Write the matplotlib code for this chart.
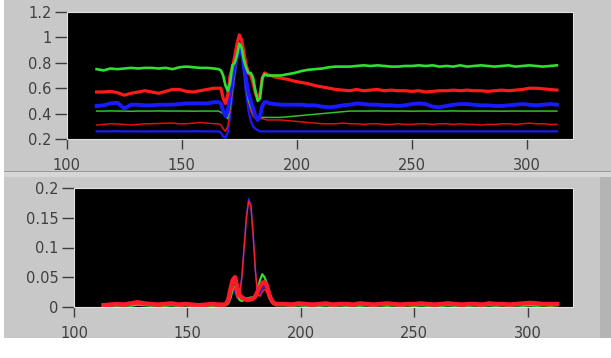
import matplotlib
matplotlib.use("Agg")
import matplotlib.pyplot as plt
from matplotlib.patches import Rectangle

# ---------------- data ----------------
x = [113, 116, 119, 122, 125, 128, 131, 134, 137, 140, 143, 146, 149, 152, 155, 158, 161, 164,
     166, 167, 168, 169, 170, 171, 172, 173, 174, 175, 176, 177, 178, 179, 180, 181, 182, 183,
     184, 185, 186, 187, 188, 189, 190,
     193, 196, 199, 202, 205, 208, 211, 214, 217, 220, 223, 226, 229, 232, 235, 238, 241, 244,
     247, 250, 253, 256, 259, 262, 265, 268, 271, 274, 277, 280, 283, 286, 289, 292, 295, 298,
     301, 304, 307, 310, 313]

# upper panel series
green_hi = [0.75, 0.74, 0.755, 0.75, 0.755, 0.76, 0.755, 0.76, 0.76, 0.755, 0.76, 0.75, 0.765, 0.77,
            0.765, 0.76, 0.76, 0.755,
            0.75, 0.74, 0.70, 0.62, 0.58, 0.64, 0.78, 0.80, 0.86, 0.95, 0.92, 0.82, 0.76, 0.72,
            0.72, 0.68, 0.58, 0.50, 0.52, 0.68, 0.71, 0.70, 0.70, 0.70, 0.70,
            0.70, 0.71, 0.72, 0.735, 0.745, 0.75, 0.755, 0.765, 0.77, 0.77, 0.77, 0.775, 0.78,
            0.775, 0.78, 0.775, 0.77, 0.77, 0.775, 0.775, 0.78, 0.775, 0.78, 0.77, 0.775, 0.77,
            0.78, 0.77, 0.775, 0.78, 0.775, 0.77, 0.775, 0.78, 0.77, 0.775, 0.78, 0.775, 0.77,
            0.775, 0.78]
red_hi = [0.57, 0.57, 0.575, 0.565, 0.545, 0.56, 0.57, 0.58, 0.57, 0.56, 0.575, 0.59, 0.59, 0.575,
          0.57, 0.58, 0.59, 0.60,
          0.60, 0.60, 0.52, 0.48, 0.55, 0.70, 0.76, 0.85, 0.95, 1.02, 0.98, 0.88, 0.78, 0.72,
          0.70, 0.64, 0.56, 0.52, 0.56, 0.68, 0.72, 0.71, 0.70, 0.70, 0.69,
          0.68, 0.67, 0.655, 0.645, 0.635, 0.62, 0.61, 0.60, 0.59, 0.585, 0.58, 0.59, 0.58,
          0.585, 0.59, 0.58, 0.585, 0.58, 0.58, 0.575, 0.58, 0.57, 0.575, 0.58, 0.58, 0.585,
          0.58, 0.585, 0.58, 0.58, 0.575, 0.58, 0.585, 0.58, 0.585, 0.59, 0.60, 0.60, 0.595,
          0.59, 0.585]
blue_hi = [0.46, 0.465, 0.48, 0.485, 0.44, 0.47, 0.47, 0.465, 0.465, 0.47, 0.47, 0.47, 0.475, 0.48,
           0.48, 0.48, 0.48, 0.49,
           0.49, 0.48, 0.42, 0.38, 0.42, 0.55, 0.68, 0.78, 0.88, 0.95, 0.92, 0.80, 0.66, 0.56,
           0.50, 0.44, 0.38, 0.35, 0.38, 0.46, 0.49, 0.49, 0.48, 0.48, 0.475,
           0.47, 0.47, 0.47, 0.47, 0.465, 0.465, 0.455, 0.45, 0.455, 0.465, 0.47, 0.48, 0.475,
           0.47, 0.47, 0.465, 0.465, 0.46, 0.465, 0.475, 0.48, 0.475, 0.455, 0.45, 0.46, 0.47,
           0.475, 0.475, 0.47, 0.465, 0.465, 0.46, 0.46, 0.465, 0.47, 0.475, 0.47, 0.465, 0.47,
           0.475, 0.47]
green_lo = [0.42, 0.42, 0.421, 0.42, 0.42, 0.418, 0.42, 0.42, 0.42, 0.421, 0.42, 0.42, 0.42, 0.42,
            0.419, 0.42, 0.42, 0.42,
            0.42, 0.41, 0.40, 0.38, 0.36, 0.45, 0.60, 0.72, 0.85, 0.95, 0.90, 0.75, 0.60, 0.50,
            0.45, 0.40, 0.38, 0.37, 0.37, 0.37, 0.37, 0.37, 0.37, 0.37, 0.37,
            0.37, 0.375, 0.38, 0.385, 0.39, 0.395, 0.40, 0.405, 0.41, 0.415, 0.42, 0.42, 0.42,
            0.42, 0.421, 0.42, 0.42, 0.42, 0.42, 0.419, 0.42, 0.42, 0.42, 0.42, 0.42, 0.421,
            0.42, 0.42, 0.42, 0.42, 0.42, 0.42, 0.419, 0.42, 0.42, 0.42, 0.42, 0.42, 0.42,
            0.42, 0.42]
red_lo = [0.31, 0.315, 0.32, 0.318, 0.315, 0.31, 0.315, 0.32, 0.32, 0.322, 0.325, 0.325, 0.32,
          0.32, 0.325, 0.33, 0.325, 0.32,
          0.32, 0.31, 0.28, 0.26, 0.30, 0.42, 0.58, 0.72, 0.85, 0.96, 0.92, 0.78, 0.62, 0.50,
          0.42, 0.38, 0.36, 0.36, 0.36, 0.36, 0.355, 0.35, 0.35, 0.35, 0.35,
          0.35, 0.345, 0.34, 0.335, 0.33, 0.325, 0.32, 0.32, 0.32, 0.325, 0.32, 0.32, 0.315,
          0.32, 0.32, 0.315, 0.315, 0.32, 0.315, 0.315, 0.32, 0.32, 0.315, 0.32, 0.32, 0.315,
          0.32, 0.315, 0.315, 0.31, 0.315, 0.315, 0.32, 0.32, 0.315, 0.32, 0.325, 0.32, 0.32,
          0.315, 0.315]
blue_lo = [0.26, 0.26, 0.26, 0.261, 0.26, 0.26, 0.26, 0.259, 0.26, 0.26, 0.26, 0.26, 0.26, 0.26,
           0.261, 0.26, 0.26, 0.26,
           0.26, 0.25, 0.22, 0.21, 0.25, 0.38, 0.55, 0.70, 0.82, 0.90, 0.86, 0.72, 0.55, 0.42,
           0.34, 0.30, 0.28, 0.27, 0.26, 0.26, 0.26, 0.26, 0.26, 0.26, 0.26,
           0.26, 0.26, 0.26, 0.26, 0.26, 0.26, 0.26, 0.26, 0.26, 0.26, 0.26, 0.26, 0.26,
           0.26, 0.26, 0.26, 0.26, 0.26, 0.26, 0.26, 0.26, 0.26, 0.26, 0.26, 0.26, 0.26,
           0.26, 0.26, 0.26, 0.26, 0.26, 0.26, 0.26, 0.26, 0.26, 0.26, 0.26, 0.26, 0.26,
           0.26, 0.26]

# lower panel series (18 + 25 + 41 values each)
red_dev = [0.003, 0.004, 0.005, 0.004, 0.006, 0.008, 0.006, 0.005, 0.004,
           0.005, 0.006, 0.004, 0.005, 0.004, 0.003, 0.004, 0.005, 0.004,
           0.004, 0.005, 0.012, 0.030, 0.045,
           0.050, 0.032, 0.020, 0.016, 0.014,
           0.012, 0.012, 0.013, 0.014, 0.018,
           0.026, 0.034, 0.040, 0.042, 0.036,
           0.022, 0.012, 0.007, 0.005, 0.005,
           0.005, 0.004, 0.006, 0.005, 0.004, 0.005, 0.006, 0.004, 0.005, 0.005,
           0.004, 0.006, 0.005, 0.004, 0.005, 0.006, 0.005, 0.004, 0.005, 0.005,
           0.006, 0.005, 0.004, 0.005, 0.006, 0.005, 0.004, 0.005, 0.005, 0.004,
           0.006, 0.005, 0.005, 0.004, 0.005, 0.006, 0.007, 0.006, 0.005, 0.005,
           0.005]
red_peak = [0.002, 0.003, 0.004, 0.003, 0.004, 0.006, 0.004, 0.004, 0.003,
            0.004, 0.004, 0.003, 0.004, 0.003, 0.003, 0.003, 0.004, 0.003,
            0.003, 0.004, 0.008, 0.020, 0.035,
            0.030, 0.015, 0.020, 0.050, 0.100,
            0.150, 0.178, 0.170, 0.120, 0.060,
            0.020, 0.018, 0.025, 0.030, 0.025,
            0.015, 0.008, 0.005, 0.004, 0.004,
            0.004, 0.003, 0.004, 0.004, 0.003, 0.004, 0.004, 0.003, 0.004, 0.004,
            0.003, 0.004, 0.004, 0.003, 0.004, 0.004, 0.004, 0.003, 0.004, 0.004,
            0.004, 0.004, 0.003, 0.004, 0.004, 0.004, 0.003, 0.004, 0.004, 0.003,
            0.004, 0.004, 0.004, 0.003, 0.004, 0.004, 0.005, 0.004, 0.004, 0.004,
            0.004]
green_dev = [0.002, 0.003, 0.002, 0.003, 0.002, 0.004, 0.003, 0.002, 0.003,
             0.002, 0.003, 0.002, 0.003, 0.002, 0.002, 0.003, 0.002, 0.003,
             0.003, 0.003, 0.006, 0.015, 0.030,
             0.035, 0.020, 0.012, 0.010, 0.012,
             0.014, 0.015, 0.016, 0.016, 0.020,
             0.030, 0.045, 0.055, 0.050, 0.040,
             0.025, 0.010, 0.005, 0.003, 0.003,
             0.003, 0.002, 0.003, 0.002, 0.003, 0.002, 0.003, 0.002, 0.003, 0.002,
             0.003, 0.002, 0.003, 0.002, 0.003, 0.002, 0.003, 0.002, 0.003, 0.002,
             0.003, 0.002, 0.003, 0.002, 0.003, 0.002, 0.003, 0.002, 0.003, 0.002,
             0.003, 0.002, 0.003, 0.002, 0.003, 0.002, 0.003, 0.002, 0.003, 0.002,
             0.003]
blue_dev = [0.003, 0.003, 0.004, 0.003, 0.004, 0.005, 0.004, 0.004, 0.003,
            0.005, 0.006, 0.004, 0.004, 0.003, 0.003, 0.004, 0.004, 0.003,
            0.003, 0.004, 0.008, 0.020, 0.030,
            0.025, 0.015, 0.020, 0.050, 0.100,
            0.150, 0.182, 0.170, 0.120, 0.060,
            0.020, 0.020, 0.030, 0.035, 0.030,
            0.015, 0.008, 0.005, 0.004, 0.004,
            0.004, 0.003, 0.004, 0.004, 0.003, 0.004, 0.004, 0.003, 0.004, 0.004,
            0.003, 0.004, 0.004, 0.003, 0.004, 0.004, 0.005, 0.003, 0.004, 0.004,
            0.005, 0.004, 0.003, 0.004, 0.004, 0.004, 0.003, 0.004, 0.004, 0.003,
            0.004, 0.004, 0.004, 0.003, 0.004, 0.004, 0.005, 0.004, 0.004, 0.004,
            0.004]

x_ticks = [100, 150, 200, 250, 300]
y_ticks_top = [0.2, 0.4, 0.6, 0.8, 1.0, 1.2]
y_labels_top = ["0.2", "0.4", "0.6", "0.8", "1", "1.2"]
y_ticks_bot = [0, 0.05, 0.1, 0.15, 0.2]
y_labels_bot = ["0", "0.05", "0.1", "0.15", "0.2"]

# ---------------- figure ----------------
W, H = 611, 358
fig = plt.figure(figsize=(W / 100, H / 100), dpi=100, facecolor="white")

PANEL = "#c8c8c8"
def px_rect(x0, y0, x1, y1, color):
    fig.patches.append(Rectangle((x0 / W, 1 - y1 / H), (x1 - x0) / W, (y1 - y0) / H,
                                 transform=fig.transFigure, facecolor=color,
                                 edgecolor="none", zorder=-10))

px_rect(4, 0, 611, 171, PANEL)
px_rect(4, 171, 611, 172, "#9a9a9a")
px_rect(4, 172, 611, 177, "#d6d6d6")
px_rect(4, 177, 611, 338, PANEL)
px_rect(600, 177, 611, 338, "#b4b4b4")

TXT = "#404040"

def style(ax, yt, yl):
    ax.set_facecolor("black")
    ax.set_xlim(100, 320)
    ax.set_xticks(x_ticks)
    ax.set_xticklabels([str(t) for t in x_ticks])
    ax.set_yticks(yt)
    ax.set_yticklabels(yl)
    ax.tick_params(axis="x", direction="out", length=7, width=1, color="#3c3c3c",
                   labelcolor=TXT, labelsize=10.5, pad=7)
    ax.tick_params(axis="y", direction="out", length=9, width=1, color="#3c3c3c",
                   labelcolor=TXT, labelsize=10.5, pad=2)
    for s in ax.spines.values():
        s.set_color("#e0e0e0")
        s.set_linewidth(0.8)

ax1 = fig.add_axes([66.7 / W, 1 - 139 / H, (573 - 66.7) / W, (139 - 12) / H])
style(ax1, y_ticks_top, y_labels_top)
ax1.set_ylim(0.2, 1.2)
ax1.plot(x, blue_lo, color="#1a1aff", lw=1.6)
ax1.plot(x, red_lo, color="#e01010", lw=1.1)
ax1.plot(x, green_lo, color="#30c030", lw=1.1)
ax1.plot(x, blue_hi, color="#1a1aff", lw=2.8)
ax1.plot(x, red_hi, color="#ff1a1a", lw=2.3)
ax1.plot(x, green_hi, color="#30e030", lw=1.9)

ax2 = fig.add_axes([74 / W, 1 - 307 / H, (573 - 74) / W, (307 - 188) / H])
style(ax2, y_ticks_bot, y_labels_bot)
ax2.set_ylim(0, 0.2)
ax2.plot(x, blue_dev, color="#2020ff", lw=1.2)
ax2.plot(x, green_dev, color="#30e030", lw=1.6)
ax2.plot(x, red_dev, color="#ff1a2a", lw=3.2)
ax2.plot(x, red_peak, color="#ff2020", lw=1.0)

fig.savefig("out.png", dpi=100, facecolor="white")
